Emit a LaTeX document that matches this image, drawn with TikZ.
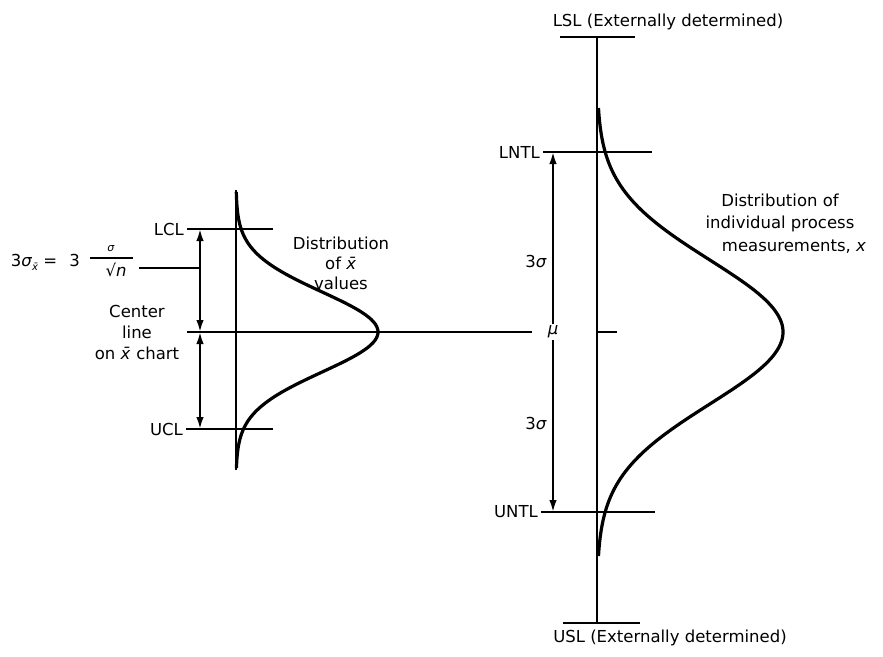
\documentclass[tikz,border=0pt]{standalone}
\usepackage{fontspec}
\setmainfont{DejaVu Sans}
\usetikzlibrary{arrows.meta}
\newcommand{\xbar}{\textit{\=x}}
\begin{document}
\begin{tikzpicture}[x=1pt,y=-1pt,
  ln/.style={line width=2.4pt},
  crv/.style={line width=3.2pt},
  dim/.style={line width=2pt},
  tipone/.style={-{Latex[length=12pt,width=7.5pt]}},
  tiptwo/.style={{Latex[length=12pt,width=7.5pt]}-{Latex[length=12pt,width=7.5pt]}},
  lbl/.style={font=\fontsize{16.5}{20}\selectfont, inner sep=0pt},
  sml/.style={font=\fontsize{11}{12}\selectfont, inner sep=0pt},
]
\useasboundingbox (0,0) rectangle (883,656);

% ---------- left (x-bar chart) ----------
\coordinate (laT) at (236,190);
\coordinate (laB) at (236,470);
\draw[ln] (laT) -- (laB);

\node[lbl, anchor=east] (lcl) at (184,229) {LCL};
\coordinate (lclR) at (273,229);
\draw[ln] ([xshift=3pt]lcl.east) -- (lclR);

\node[lbl, anchor=east] (ucl) at (183,429) {UCL};
\coordinate (uclR) at (273,429);
\draw[ln] ([xshift=3pt]ucl.east) -- (uclR);

\coordinate (clL) at (187,332);
\coordinate (clR) at (532,332);
\draw[ln] (clL) -- (clR);

\coordinate (a1) at (200,229);
\coordinate (a2) at (200,332);
\coordinate (a3) at (200,429);
\draw[dim, tiptwo] (a1) -- (a2);
\draw[dim, tiptwo] (a2) -- (a3);

% equation 3 sigma_xbar = 3 sigma / sqrt n
\node[lbl, anchor=east] (eqA) at (80,262) {3\textit{σ}\raisebox{-4pt}{\fontsize{10}{10}\selectfont\xbar}\hspace{5pt}=\hspace{12pt}3};
\coordinate (barL) at (90,258);
\coordinate (barR) at (133,258);
\draw[line width=1.5pt] (barL) -- (barR);
\node[sml] (eqS) at (111,249) {\textit{σ}};
\node[lbl] (eqN) at (116,270) {√\textit{n}};
\coordinate (ldL) at (139,268);
\coordinate (ldR) at (200,268);
\draw[ln] (ldL) -- (ldR);

\node[lbl, align=center] (center) at (137,332) {Center\\[1pt]line\\[1pt]on \xbar\ chart};
\node[lbl, align=center] (distxbar) at (341,263) {Distribution\\of \xbar\\values};

\draw[crv] plot[domain=192:468, samples=120, smooth] ({236+142*exp(-((\x-332)/40)^2/2)}, \x);

% ---------- right (individual measurements) ----------
\coordinate (raT) at (597,37);
\coordinate (raB) at (597,623);
\draw[ln] (raT) -- (raB);

\node[lbl] (lsl) at (668,22) {LSL (Externally determined)};
\coordinate (lslL) at (560,37);
\coordinate (lslR) at (635,37);
\draw[ln] (lslL) -- (lslR);

\node[lbl] (usl) at (670,638) {USL (Externally determined)};
\coordinate (uslL) at (563,623);
\coordinate (uslR) at (640,623);
\draw[ln] (uslL) -- (uslR);

\node[lbl, anchor=east] (lntl) at (540,152) {LNTL};
\coordinate (lntlR) at (652,152);
\draw[ln] ([xshift=3pt]lntl.east) -- (lntlR);

\node[lbl, anchor=east] (untl) at (538,512) {UNTL};
\coordinate (untlR) at (655,512);
\draw[ln] ([xshift=3pt]untl.east) -- (untlR);

\coordinate (muT) at (597,332);
\coordinate (muR) at (617,332);
\draw[ln] (muT) -- (muR);

\node[lbl] (mu) at (553,332) {\itshape μ};
\coordinate (b1) at (553,152);
\coordinate (b3) at (553,512);
\draw[dim, tipone] (mu.north) ++(0,-2) -- (b1);
\draw[dim, tipone] (mu.south) ++(0,2) -- (b3);

\node[lbl] (s1) at (536,261) {3\textit{σ}};
\node[lbl] (s2) at (536,423) {3\textit{σ}};

\node[lbl] (dx1) at (780,200) {Distribution of};
\node[lbl] (dx2) at (780,224) {individual process};
\node[lbl] (dx3) at (794,247) {measurements, \textit{x}};

\draw[crv] plot[domain=108:556, samples=160, smooth] ({597+186*exp(-((\x-332)/72)^2/2)}, \x);
\end{tikzpicture}
\end{document}
